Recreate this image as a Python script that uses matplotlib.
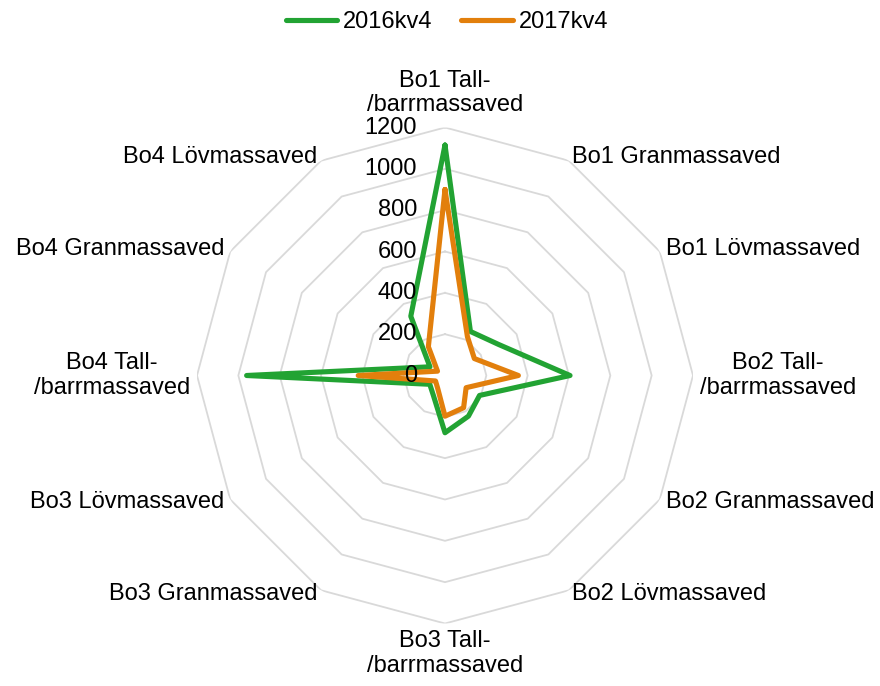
import numpy as np
import matplotlib
matplotlib.use("Agg")
import matplotlib.pyplot as plt

plt.rcParams['font.family'] = ['Liberation Sans', 'DejaVu Sans']

categories = ["Bo1 Tall-\n/barrmassaved", "Bo1 Granmassaved", "Bo1 Lövmassaved",
              "Bo2 Tall-\n/barrmassaved", "Bo2 Granmassaved", "Bo2 Lövmassaved",
              "Bo3 Tall-\n/barrmassaved", "Bo3 Granmassaved", "Bo3 Lövmassaved",
              "Bo4 Tall-\n/barrmassaved", "Bo4 Granmassaved", "Bo4 Lövmassaved"]
series_2016 = [1115, 246, 300, 605, 193, 227, 277, 112, 85, 960, 84, 331]
series_2017 = [900, 217, 164, 355, 118, 180, 197, 71, 53, 420, 42, 161]
ring_values = [200, 400, 600, 800, 1000, 1200]
tick_values = [0, 200, 400, 600, 800, 1000, 1200]
rmax = 1200

W, H = 880, 686
fig = plt.figure(figsize=(W / 100, H / 100), dpi=100)
cx, cy, R = 445, 375.5, 248
ax = fig.add_axes([(cx - R) / W, (H - cy - R) / H, 2 * R / W, 2 * R / H], projection='polar')
ax.set_theta_offset(np.pi / 2)
ax.set_theta_direction(-1)
ax.set_ylim(0, rmax)
ax.spines['polar'].set_visible(False)
ax.grid(False)
ax.set_xticks([])
ax.set_yticks([])
ax.patch.set_visible(False)

n = len(categories)
angles = np.arange(n) * 2 * np.pi / n
closed = np.append(angles, angles[0])

for v in ring_values:
    ax.plot(closed, [v] * (n + 1), color='#d9d9d9', lw=1.3, zorder=1)

fs = 17
g_col = '#22a333'
o_col = '#e27f0c'
ax.plot(closed, series_2016 + series_2016[:1], color=g_col, lw=3.7, zorder=3,
        solid_joinstyle='round', solid_capstyle='round', label='2016kv4')
ax.plot(closed, series_2017 + series_2017[:1], color=o_col, lw=3.7, zorder=4,
        solid_joinstyle='round', solid_capstyle='round', label='2017kv4')

for t in tick_values:
    ax.annotate(str(t), xy=(0, t), xytext=(-20, 0), textcoords='offset points',
                ha='right', va='center', fontsize=fs, color='black', zorder=6)

for a, lab in zip(angles, categories):
    s, c = np.sin(a), np.cos(a)
    if abs(s) < 1e-6:
        ha = 'center'
        va = 'bottom' if c > 0 else 'top'
        off = (0, 8 if c > 0 else -5)
    else:
        ha = 'left' if s > 0 else 'right'
        va = 'center'
        off = (5 * s, 3.5 * c)
    ax.annotate(lab, xy=(a, rmax), xytext=off, textcoords='offset points',
                ha=ha, va=va, fontsize=fs, multialignment='center',
                linespacing=1.15, annotation_clip=False)

fig.legend(loc='upper center', bbox_to_anchor=(0.508, 1.015), ncol=2, frameon=False,
           fontsize=fs, handlelength=2.2, handletextpad=0.25, columnspacing=1.2)

fig.savefig('out.png', dpi=100)
